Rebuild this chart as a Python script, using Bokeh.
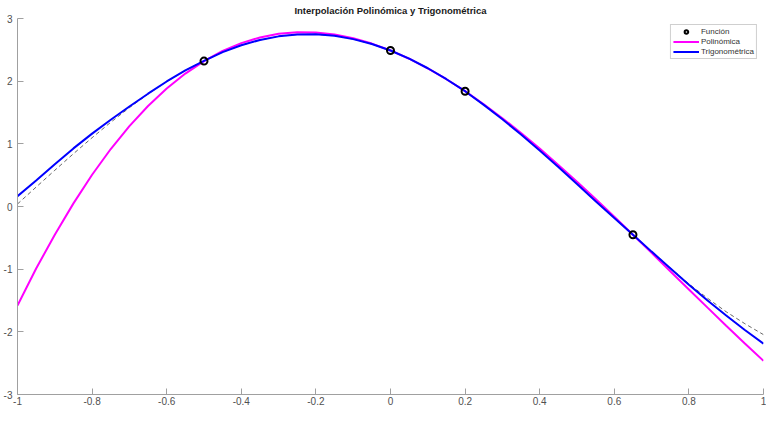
from bokeh.plotting import figure
from bokeh.models import Range1d, FixedTicker, Legend, LegendItem
from bokeh.embed import file_html
from bokeh.resources import INLINE

TITLE = "Interpolación Polinómica y Trigonométrica"

x_samples = [-1.0, -0.95, -0.9, -0.85, -0.8, -0.75, -0.7, -0.65, -0.6, -0.55,
             -0.5, -0.45, -0.4, -0.35, -0.3, -0.25, -0.2, -0.15, -0.1, -0.05,
             0.0, 0.05, 0.1, 0.15, 0.2, 0.25, 0.3, 0.35, 0.4, 0.45,
             0.5, 0.55, 0.6, 0.65, 0.7, 0.75, 0.8, 0.85, 0.9, 0.95, 1.0]

funcion_y = [0.04, 0.31, 0.578, 0.842, 1.098, 1.344, 1.577, 1.794, 1.993, 2.173,
             2.325, 2.464, 2.574, 2.658, 2.715, 2.745, 2.748, 2.723, 2.671, 2.593,
             2.49, 2.359, 2.206, 2.031, 1.84, 1.622, 1.392, 1.148, 0.893, 0.629,
             0.359, 0.085, -0.185, -0.45, -0.72, -0.98, -1.235, -1.465, -1.68, -1.87, -2.045]

polinomica_y = [-1.58, -0.99, -0.45, 0.05, 0.507, 0.917, 1.282, 1.603, 1.882, 2.121,
                2.32, 2.482, 2.607, 2.698, 2.756, 2.782, 2.778, 2.745, 2.685, 2.600,
                2.49, 2.358, 2.204, 2.031, 1.84, 1.632, 1.409, 1.173, 0.924, 0.664,
                0.396, 0.120, -0.163, -0.45, -0.740, -1.032, -1.324, -1.614, -1.902, -2.185, -2.463]

trigonometrica_y = [0.165, 0.415, 0.673, 0.927, 1.163, 1.384, 1.595, 1.80, 1.995, 2.173,
                    2.325, 2.464, 2.574, 2.658, 2.715, 2.745, 2.748, 2.723, 2.671, 2.593,
                    2.49, 2.359, 2.206, 2.031, 1.84, 1.622, 1.392, 1.148, 0.893, 0.629,
                    0.359, 0.085, -0.185, -0.45, -0.72, -0.985, -1.25, -1.50, -1.74, -1.97, -2.19]

nodos_x = [-0.5, 0.0, 0.2, 0.65]
nodos_y = [2.32, 2.49, 1.84, -0.45]

x_ticks = [-1, -0.8, -0.6, -0.4, -0.2, 0, 0.2, 0.4, 0.6, 0.8, 1]
x_tick_labels = ["-1", "-0.8", "-0.6", "-0.4", "-0.2", "0", "0.2", "0.4", "0.6", "0.8", "1"]
y_ticks = [-3, -2, -1, 0, 1, 2, 3]
y_tick_labels = ["-3", "-2", "-1", "0", "1", "2", "3"]

legend_labels = ["Función", "Polinómica", "Trigonométrica"]

FONT = "Liberation Sans"
AXIS_COLOR = "#a0a0a0"
LABEL_COLOR = "#505050"

p = figure(width=766, height=407, output_backend="svg", toolbar_location=None,
           x_range=Range1d(-1, 1), y_range=Range1d(-3, 3), title=TITLE,
           min_border_left=0, min_border_right=3, min_border_top=0, min_border_bottom=0)

p.title.text_font = FONT
p.title.text_font_size = "9.5px"
p.title.text_font_style = "bold"
p.title.align = "center"
p.title.text_color = "#1a1a1a"
p.title.standoff = 5
p.title.offset = 0

p.grid.visible = False
p.outline_line_color = None
p.background_fill_color = "white"
p.border_fill_color = "white"

p.xaxis.ticker = FixedTicker(ticks=x_ticks)
p.xaxis.major_label_overrides = {t: l for t, l in zip(x_ticks, x_tick_labels)}
p.yaxis.ticker = FixedTicker(ticks=y_ticks)
p.yaxis.major_label_overrides = {t: l for t, l in zip(y_ticks, y_tick_labels)}

for ax in (p.xaxis[0], p.yaxis[0]):
    ax.axis_line_color = AXIS_COLOR
    ax.axis_line_width = 1
    ax.major_tick_line_color = AXIS_COLOR
    ax.major_tick_in = 6
    ax.major_tick_out = 0
    ax.minor_tick_in = 0
    ax.minor_tick_out = 0
    ax.minor_tick_line_color = None
    ax.major_label_text_font = FONT
    ax.major_label_text_font_size = "10px"
    ax.major_label_text_color = LABEL_COLOR
    ax.axis_label_standoff = 0
p.xaxis.major_label_standoff = 2
p.yaxis.major_label_standoff = 5

p.line(x_samples, funcion_y, line_color="#404040", line_width=0.8, line_dash="4 3")
r_poly = p.line(x_samples, polinomica_y, line_color="#ff00ff", line_width=2)
r_trig = p.line(x_samples, trigonometrica_y, line_color="#0000ff", line_width=2)
r_pts = p.scatter(nodos_x, nodos_y, marker="circle", size=7, fill_alpha=0,
                  line_color="black", line_width=2)

legend = Legend(items=[LegendItem(label=legend_labels[0], renderers=[r_pts]),
                       LegendItem(label=legend_labels[1], renderers=[r_poly]),
                       LegendItem(label=legend_labels[2], renderers=[r_trig])],
                location="top_right")
legend.label_text_font = FONT
legend.label_text_font_size = "8px"
legend.label_text_color = "#333333"
legend.glyph_width = 26
legend.glyph_height = 9
legend.label_height = 9
legend.label_standoff = 2
legend.spacing = 1
legend.padding = 2
legend.margin = 6
legend.border_line_color = AXIS_COLOR
legend.border_line_width = 1
legend.background_fill_alpha = 1
p.add_layout(legend)

open("out.html", "w").write(file_html(p, INLINE))
